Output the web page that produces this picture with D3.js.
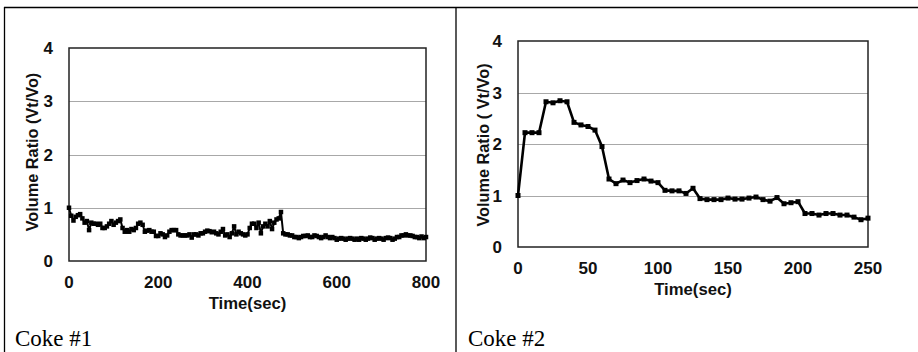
<!DOCTYPE html>
<html>
<head>
<meta charset="utf-8">
<script src="https://cdn.jsdelivr.net/npm/d3@7"></script>
<style>
  body { margin: 0; background: #fff; }
  svg { display: block; }
</style>
</head>
<body>
<svg id="chart" width="918" height="352"></svg>
<script>
// Coke #1 readings, every 5 sec
var time1 = [0,5,10,15,20,25,30,35,40,45,50,55,60,65,70,75,80,85,90,95,100,105,110,115,120,125,130,135,140,145,150,155,160,165,170,175,180,185,190,195,200,205,210,215,220,225,230,235,240,245,250,255,260,265,270,275,280,285,290,295,300,305,310,315,320,325,330,335,340,345,350,355,360,365,370,375,380,385,390,395,400,405,410,415,420,425,430,435,440,445,450,455,460,465,470,475,480,485,490,495,500,505,510,515,520,525,530,535,540,545,550,555,560,565,570,575,580,585,590,595,600,605,610,615,620,625,630,635,640,645,650,655,660,665,670,675,680,685,690,695,700,705,710,715,720,725,730,735,740,745,750,755,760,765,770,775,780,785,790,795,800];
var ratio1 = [1.0,0.85,0.76,0.83,0.86,0.88,0.80,0.72,0.75,0.58,0.72,0.70,0.70,0.68,0.70,0.62,0.62,0.65,0.70,0.75,0.68,0.72,0.75,0.78,0.62,0.55,0.58,0.55,0.60,0.58,0.62,0.70,0.72,0.68,0.55,0.57,0.58,0.55,0.55,0.47,0.47,0.52,0.50,0.45,0.48,0.55,0.58,0.58,0.58,0.50,0.48,0.48,0.48,0.48,0.50,0.44,0.50,0.50,0.48,0.52,0.52,0.55,0.57,0.56,0.54,0.55,0.52,0.50,0.55,0.60,0.48,0.50,0.45,0.52,0.65,0.50,0.55,0.52,0.50,0.48,0.50,0.62,0.70,0.70,0.62,0.72,0.52,0.65,0.70,0.65,0.75,0.60,0.72,0.78,0.80,0.92,0.52,0.50,0.50,0.48,0.48,0.45,0.45,0.43,0.45,0.47,0.47,0.48,0.45,0.45,0.48,0.47,0.45,0.43,0.45,0.48,0.45,0.43,0.45,0.43,0.40,0.42,0.43,0.42,0.40,0.42,0.43,0.42,0.40,0.42,0.40,0.43,0.42,0.40,0.42,0.44,0.43,0.40,0.42,0.43,0.42,0.40,0.43,0.44,0.43,0.40,0.42,0.45,0.45,0.48,0.48,0.50,0.48,0.48,0.47,0.45,0.45,0.43,0.46,0.43,0.45];

// Coke #2 readings
var time2 = [0,5,10,15,20,25,30,35,40,45,50,55,60,65,70,75,80,85,90,95,100,105,110,115,120,125,130,135,140,145,150,155,160,165,170,175,180,185,190,195,200,205,210,215,220,225,230,235,240,245,250];
var ratio2 = [1.0,2.22,2.22,2.22,2.82,2.80,2.84,2.82,2.42,2.37,2.34,2.27,1.95,1.32,1.23,1.30,1.25,1.29,1.32,1.28,1.25,1.10,1.09,1.09,1.04,1.14,0.94,0.92,0.92,0.92,0.95,0.93,0.93,0.95,0.97,0.92,0.89,0.96,0.84,0.86,0.88,0.65,0.65,0.62,0.65,0.65,0.62,0.62,0.58,0.53,0.56];

var yTicks = [0, 1, 2, 3, 4];
var xTicks1 = [0, 200, 400, 600, 800];
var xTicks2 = [0, 50, 100, 150, 200, 250];

var svg = d3.select("#chart");

// table borders
svg.append("line").attr("x1", 4).attr("x2", 918).attr("y1", 7.5).attr("y2", 7.5).attr("stroke", "#000").attr("stroke-width", 1.3);
svg.append("line").attr("x1", 4.5).attr("x2", 4.5).attr("y1", 7).attr("y2", 352).attr("stroke", "#000").attr("stroke-width", 1.3);
svg.append("line").attr("x1", 456).attr("x2", 456).attr("y1", 7).attr("y2", 352).attr("stroke", "#000").attr("stroke-width", 1.3);

var drawPanel = function(opt) {
    var x = d3.scaleLinear().domain(opt.xDomain).range([opt.left, opt.right]);
    var y = d3.scaleLinear().domain([0, 4]).range([opt.bottom, opt.top]);
    var g = svg.append("g");

    // gridlines
    g.selectAll(".grid").data(yTicks.slice(1, 4)).enter().append("line")
        .attr("x1", opt.left).attr("x2", opt.right)
        .attr("y1", function(d) { return Math.round(y(d)) + 0.5; })
        .attr("y2", function(d) { return Math.round(y(d)) + 0.5; })
        .attr("stroke", "#a8a8a8").attr("stroke-width", 1.2);

    g.append("rect")
        .attr("x", opt.left).attr("y", opt.top)
        .attr("width", opt.right - opt.left).attr("height", opt.bottom - opt.top)
        .attr("fill", "none").attr("stroke", "#222").attr("stroke-width", 1.5);

    var font = "'Liberation Sans', Arial, sans-serif";
    g.selectAll(".yt").data(yTicks).enter().append("text")
        .attr("x", opt.left - 16).attr("y", function(d) { return y(d) + 6; })
        .attr("text-anchor", "end").attr("font-family", font)
        .attr("font-weight", "bold").attr("font-size", 17).attr("fill", "#111")
        .text(function(d) { return d; });

    g.selectAll(".xt").data(opt.xTicks).enter().append("text")
        .attr("x", function(d) { return x(d); }).attr("y", opt.bottom + 27)
        .attr("text-anchor", "middle").attr("font-family", font)
        .attr("font-weight", "bold").attr("font-size", 17).attr("fill", "#111")
        .text(function(d) { return d; });

    g.append("text")
        .attr("x", (opt.left + opt.right) / 2 - 0).attr("y", opt.bottom + 48)
        .attr("text-anchor", "middle").attr("font-family", font)
        .attr("font-weight", "bold").attr("font-size", 16.7).attr("fill", "#111")
        .text("Time(sec)");

    g.append("text")
        .attr("transform", "translate(" + opt.yLabelX + "," + opt.yLabelY + ") rotate(-90)")
        .attr("text-anchor", "middle").attr("font-family", font)
        .attr("font-weight", "bold").attr("font-size", 16.3).attr("fill", "#111")
        .text(opt.yLabel);

    var pts = opt.t.map(function(t, i) { return [t, opt.v[i]]; });
    var line = d3.line().x(function(d) { return x(d[0]); }).y(function(d) { return y(d[1]); });
    g.append("path").datum(pts)
        .attr("d", line).attr("fill", "none")
        .attr("stroke", "#000").attr("stroke-width", opt.lw).attr("stroke-linejoin", "round");

    g.selectAll(".pt").data(pts).enter().append("rect")
        .attr("x", function(d) { return x(d[0]) - opt.ms / 2; })
        .attr("y", function(d) { return y(d[1]) - opt.ms / 2; })
        .attr("width", opt.ms).attr("height", opt.ms).attr("fill", "#000");

    svg.append("text")
        .attr("x", opt.capX).attr("y", 346)
        .attr("font-family", "'Liberation Serif', 'Times New Roman', serif")
        .attr("font-size", 23).attr("fill", "#000")
        .text(opt.caption);
};

drawPanel({
    t: time1, v: ratio1, xDomain: [0, 800], xTicks: xTicks1,
    left: 69, right: 426, top: 48, bottom: 261,
    yLabel: "Volume Ratio (Vt/Vo)", yLabelX: 38, yLabelY: 152,
    lw: 2, ms: 4.5, caption: "Coke #1", capX: 15
});

drawPanel({
    t: time2, v: ratio2, xDomain: [0, 250], xTicks: xTicks2,
    left: 518, right: 868, top: 41, bottom: 247,
    yLabel: "Volume Ratio ( Vt/Vo)", yLabelX: 489, yLabelY: 145,
    lw: 2.6, ms: 5, caption: "Coke #2", capX: 468
});
</script>
</body>
</html>
